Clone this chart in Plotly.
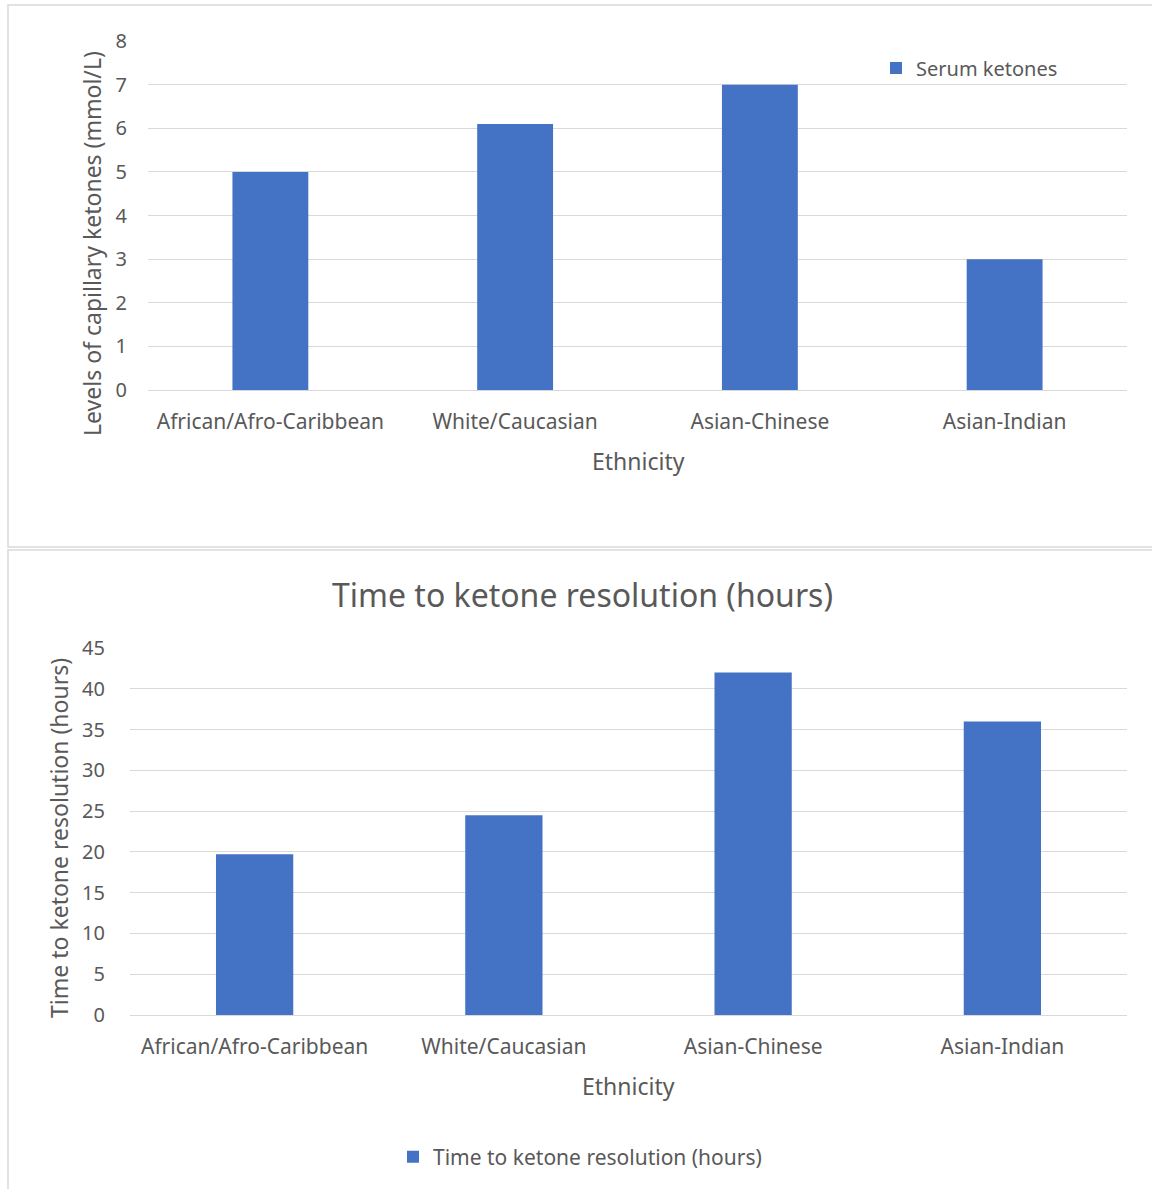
import plotly.graph_objects as go

# Data
ethnicities = ["African/Afro-Caribbean", "White/Caucasian", "Asian-Chinese", "Asian-Indian"]
serum_ketones = [5.0, 6.1, 7.0, 3.0]
resolution_hours = [19.7, 24.5, 42.0, 36.0]

W, H = 1152, 1189
BAR = "#4472C4"
TXT = "#595959"
GRID = "#d9d9d9"
FONT = "Noto Sans"


def px(x):
    return x / W


def py(y):
    return 1 - y / H


fig = go.Figure()

fig.add_trace(go.Bar(
    x=ethnicities, y=serum_ketones, name="Serum ketones",
    marker=dict(color=BAR, line=dict(width=0)),
    xaxis="x", yaxis="y", legend="legend",
))
fig.add_trace(go.Bar(
    x=ethnicities, y=resolution_hours, name="Time to ketone resolution (hours)",
    marker=dict(color=BAR, line=dict(width=0)),
    xaxis="x2", yaxis="y2", legend="legend2",
))

yaxis_common = dict(
    showline=False, ticks="", gridcolor=GRID, gridwidth=1,
    zeroline=True, zerolinecolor=GRID, zerolinewidth=1,
    tickfont=dict(family=FONT, size=20, color=TXT),
)
xaxis_common = dict(
    type="category", range=[-0.5, 3.5], showgrid=False, showline=False,
    ticks="", ticklabelstandoff=17,
    tickfont=dict(family=FONT, size=21, color=TXT),
)

fig.update_layout(
    width=W, height=H,
    margin=dict(l=0, r=0, t=0, b=0, autoexpand=False),
    paper_bgcolor="white", plot_bgcolor="white",
    font=dict(family=FONT, color=TXT),
    bargap=0.69,
    xaxis=dict(domain=[px(148), px(1127)], anchor="y", **xaxis_common),
    yaxis=dict(domain=[py(390), py(41)], anchor="x", range=[0, 8], dtick=1,
               ticklabelstandoff=20, **yaxis_common),
    xaxis2=dict(domain=[px(130), px(1127)], anchor="y2", **xaxis_common),
    yaxis2=dict(domain=[py(1015), py(648)], anchor="x2", range=[0, 45], dtick=5,
                ticklabelstandoff=24, **yaxis_common),
    legend=dict(x=px(876), y=py(68), xanchor="left", yanchor="middle",
                font=dict(family=FONT, size=20, color=TXT),
                bgcolor="rgba(0,0,0,0)", itemwidth=30),
    legend2=dict(x=px(393), y=py(1157), xanchor="left", yanchor="middle",
                 font=dict(family=FONT, size=21, color=TXT),
                 bgcolor="rgba(0,0,0,0)", itemwidth=30),
    showlegend=True,
)

# Axis titles and chart title
annotations = [
    dict(text="Levels of capillary ketones (mmol/L)", x=px(92), y=py(244),
         textangle=-90, font=dict(size=23)),
    dict(text="Ethnicity", x=px(638), y=py(461), font=dict(size=23)),
    dict(text="Time to ketone resolution (hours)", x=px(59), y=py(838),
         textangle=-90, font=dict(size=23)),
    dict(text="Ethnicity", x=px(628), y=py(1086), font=dict(size=23)),
    dict(text="Time to ketone resolution (hours)", x=px(582), y=py(594),
         font=dict(size=32)),
]
for a in annotations:
    a.update(xref="paper", yref="paper", showarrow=False,
             xanchor="center", yanchor="middle")
    a["font"].update(family=FONT, color=TXT)
    fig.add_annotation(**a)

# Chart-area borders
for y0, y1 in [(5, 547), (550, 1195)]:
    fig.add_shape(type="rect", xref="paper", yref="paper",
                  x0=px(8), x1=px(1160), y0=py(y1), y1=py(y0),
                  line=dict(color=GRID, width=1.5), fillcolor="rgba(0,0,0,0)",
                  layer="below")

fig.write_html("out.html")
